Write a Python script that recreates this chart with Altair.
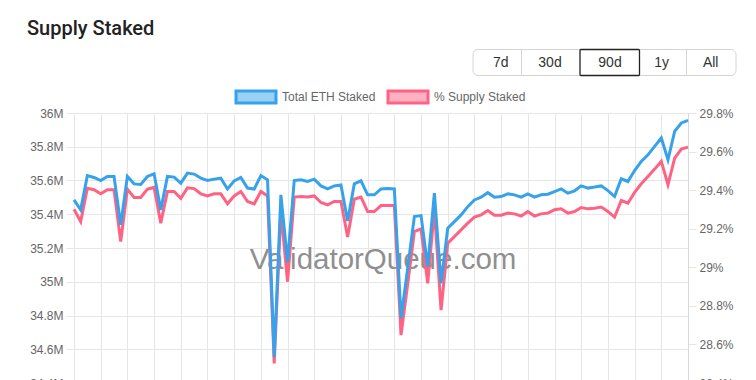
import altair as alt
import pandas as pd

# ---- data (90 days, one point per day) ----
staked_m = [35.485, 35.426, 35.629, 35.618, 35.600, 35.624, 35.624, 35.337, 35.624, 35.580,
            35.576, 35.624, 35.640, 35.426, 35.624, 35.620, 35.584, 35.644, 35.638, 35.614,
            35.600, 35.608, 35.614, 35.550, 35.598, 35.618, 35.555, 35.549, 35.629, 35.604,
            34.555, 35.515, 35.117, 35.600, 35.604, 35.594, 35.608, 35.568, 35.550, 35.568,
            35.574, 35.360, 35.580, 35.598, 35.515, 35.515, 35.550, 35.552, 35.550, 34.784,
            35.081, 35.386, 35.392, 35.089, 35.525, 34.990, 35.317, 35.356, 35.396, 35.445,
            35.485, 35.501, 35.528, 35.501, 35.505, 35.521, 35.515, 35.501, 35.521, 35.501,
            35.515, 35.519, 35.534, 35.550, 35.525, 35.539, 35.568, 35.555, 35.561, 35.568,
            35.540, 35.505, 35.610, 35.594, 35.659, 35.713, 35.752, 35.802, 35.852, 35.723,
            35.891, 35.941, 35.956]

supply_pct = [29.301, 29.237, 29.410, 29.402, 29.381, 29.402, 29.402, 29.133, 29.405, 29.362,
              29.362, 29.405, 29.414, 29.229, 29.393, 29.393, 29.358, 29.412, 29.408, 29.381,
              29.370, 29.381, 29.381, 29.329, 29.370, 29.393, 29.341, 29.329, 29.393, 29.370,
              28.501, 29.292, 28.925, 29.364, 29.367, 29.364, 29.370, 29.336, 29.324, 29.341,
              29.341, 29.157, 29.353, 29.364, 29.289, 29.289, 29.320, 29.320, 29.320, 28.648,
              28.913, 29.185, 29.199, 28.917, 29.300, 28.778, 29.125, 29.159, 29.194, 29.229,
              29.260, 29.272, 29.294, 29.270, 29.270, 29.281, 29.277, 29.266, 29.289, 29.266,
              29.277, 29.281, 29.298, 29.303, 29.281, 29.289, 29.310, 29.303, 29.306, 29.312,
              29.289, 29.260, 29.346, 29.332, 29.388, 29.433, 29.471, 29.509, 29.549, 29.428,
              29.566, 29.613, 29.623]

days = list(range(len(staked_m)))
left_ticks = [34.4, 34.6, 34.8, 35.0, 35.2, 35.4, 35.6, 35.8, 36.0]
right_ticks = [28.4, 28.6, 28.8, 29.0, 29.2, 29.4, 29.6, 29.8]
x_grid = days[::4]
series_names = ["Total ETH Staked", "% Supply Staked"]
buttons = ["7d", "30d", "90d", "1y", "All"]
selected_button = "90d"
title_text = "Supply Staked"
watermark_text = "ValidatorQueue.com"

# ---- styles ----
BLUE, PINK = "#36a2eb", "#ff6384"
BLUE_FILL, PINK_FILL = "rgba(54,162,235,0.5)", "rgba(255,99,132,0.5)"
GRID = "#e6e6e6"
FONT = "Liberation Sans"
W, H = 614, 270
L, T = 74, 113

df = pd.DataFrame({"day": days, "staked": staked_m, "pct": supply_pct})
one = pd.DataFrame({"k": [0]})

x_enc = alt.X("day:Q", scale=alt.Scale(domain=[days[0], days[-1]], nice=False, zero=False),
              axis=alt.Axis(values=x_grid, labels=False, title=None, grid=True, gridColor=GRID,
                            domainColor=GRID, tickColor=GRID, tickSize=8))

watermark = alt.Chart(pd.DataFrame({"t": [watermark_text]})).mark_text(
    font=FONT, fontSize=29.5, color="#8f8f8f", align="center", baseline="middle"
).encode(text="t:N", x=alt.value(383 - L), y=alt.value(260 - T))

pink = alt.Chart(df).mark_line(color=PINK, strokeWidth=3, strokeJoin="miter").encode(
    x=x_enc,
    y=alt.Y("pct:Q", scale=alt.Scale(domain=[28.4, 29.8], nice=False, zero=False),
            axis=alt.Axis(orient="right", values=right_ticks, grid=False, title=None,
                          labelExpr="format(datum.value, '.1~f') + '%'",
                          tickSize=8, tickColor=GRID, domainColor="#d9d9d9", labelPadding=3,
                          labelOverlap=False)))

blue = alt.Chart(df).mark_line(color=BLUE, strokeWidth=3, strokeJoin="miter").encode(
    x=x_enc,
    y=alt.Y("staked:Q", scale=alt.Scale(domain=[34.4, 36.0], nice=False, zero=False),
            axis=alt.Axis(orient="left", values=left_ticks, grid=True, gridColor=GRID, title=None,
                          labelExpr="format(datum.value, '.1~f') + 'M'",
                          tickSize=8, tickColor=GRID, domainColor=GRID, labelPadding=3,
                          labelOverlap=False)))

layers = [watermark, pink, blue]

# title
layers.append(alt.Chart(pd.DataFrame({"t": [title_text]})).mark_text(
    font="Roboto", fontSize=20, fontWeight=500, color="#222", align="left", baseline="alphabetic"
).encode(text="t:N", x=alt.value(27 - L), y=alt.value(35 - T)))

# legend
legend_specs = [(series_names[0], BLUE, BLUE_FILL, 236), (series_names[1], PINK, PINK_FILL, 388)]
for name, col, fill, bx in legend_specs:
    layers.append(alt.Chart(one).mark_rect(fill=fill, stroke=col, strokeWidth=3).encode(
        x=alt.value(bx - L), x2=alt.value(bx + 40 - L), y=alt.value(91 - T), y2=alt.value(103 - T)))
    layers.append(alt.Chart(pd.DataFrame({"t": [name]})).mark_text(
        font=FONT, fontSize=12, color="#666", align="left", baseline="middle"
    ).encode(text="t:N", x=alt.value(bx + 46 - L), y=alt.value(97 - T)))

# button group
layers.append(alt.Chart(one).mark_rect(fill="white", stroke="#d4d4d4", strokeWidth=1, cornerRadius=5).encode(
    x=alt.value(473 - L), x2=alt.value(736 - L), y=alt.value(49.5 - T), y2=alt.value(75.5 - T)))
for dx in [521.5, 686.5]:
    layers.append(alt.Chart(one).mark_rule(color="#d4d4d4", strokeWidth=1).encode(
        x=alt.value(dx - L), y=alt.value(49.5 - T), y2=alt.value(75.5 - T)))
layers.append(alt.Chart(one).mark_rect(fill="white", stroke="#222", strokeWidth=1.3, cornerRadius=1).encode(
    x=alt.value(580 - L), x2=alt.value(639.5 - L), y=alt.value(49.5 - T), y2=alt.value(75.5 - T)))
button_centers = [500.7, 550, 610, 661.7, 710.7]
for lab, cx in zip(buttons, button_centers):
    layers.append(alt.Chart(pd.DataFrame({"t": [lab]})).mark_text(
        font=FONT, fontSize=14, color="#333", align="center", baseline="middle"
    ).encode(text="t:N", x=alt.value(cx - L), y=alt.value(63 - T)))

chart = alt.layer(*layers).resolve_scale(y="independent").properties(
    width=W, height=H,
    padding={"left": L, "top": T, "right": 756 - L - W, "bottom": 30},
    autosize=alt.AutoSizeParams(type="none"),
).configure_view(strokeWidth=0).configure_axis(
    labelFont=FONT, labelFontSize=12, labelColor="#666"
)

chart.save("out.html", embed_options={"renderer": "svg", "actions": False})
